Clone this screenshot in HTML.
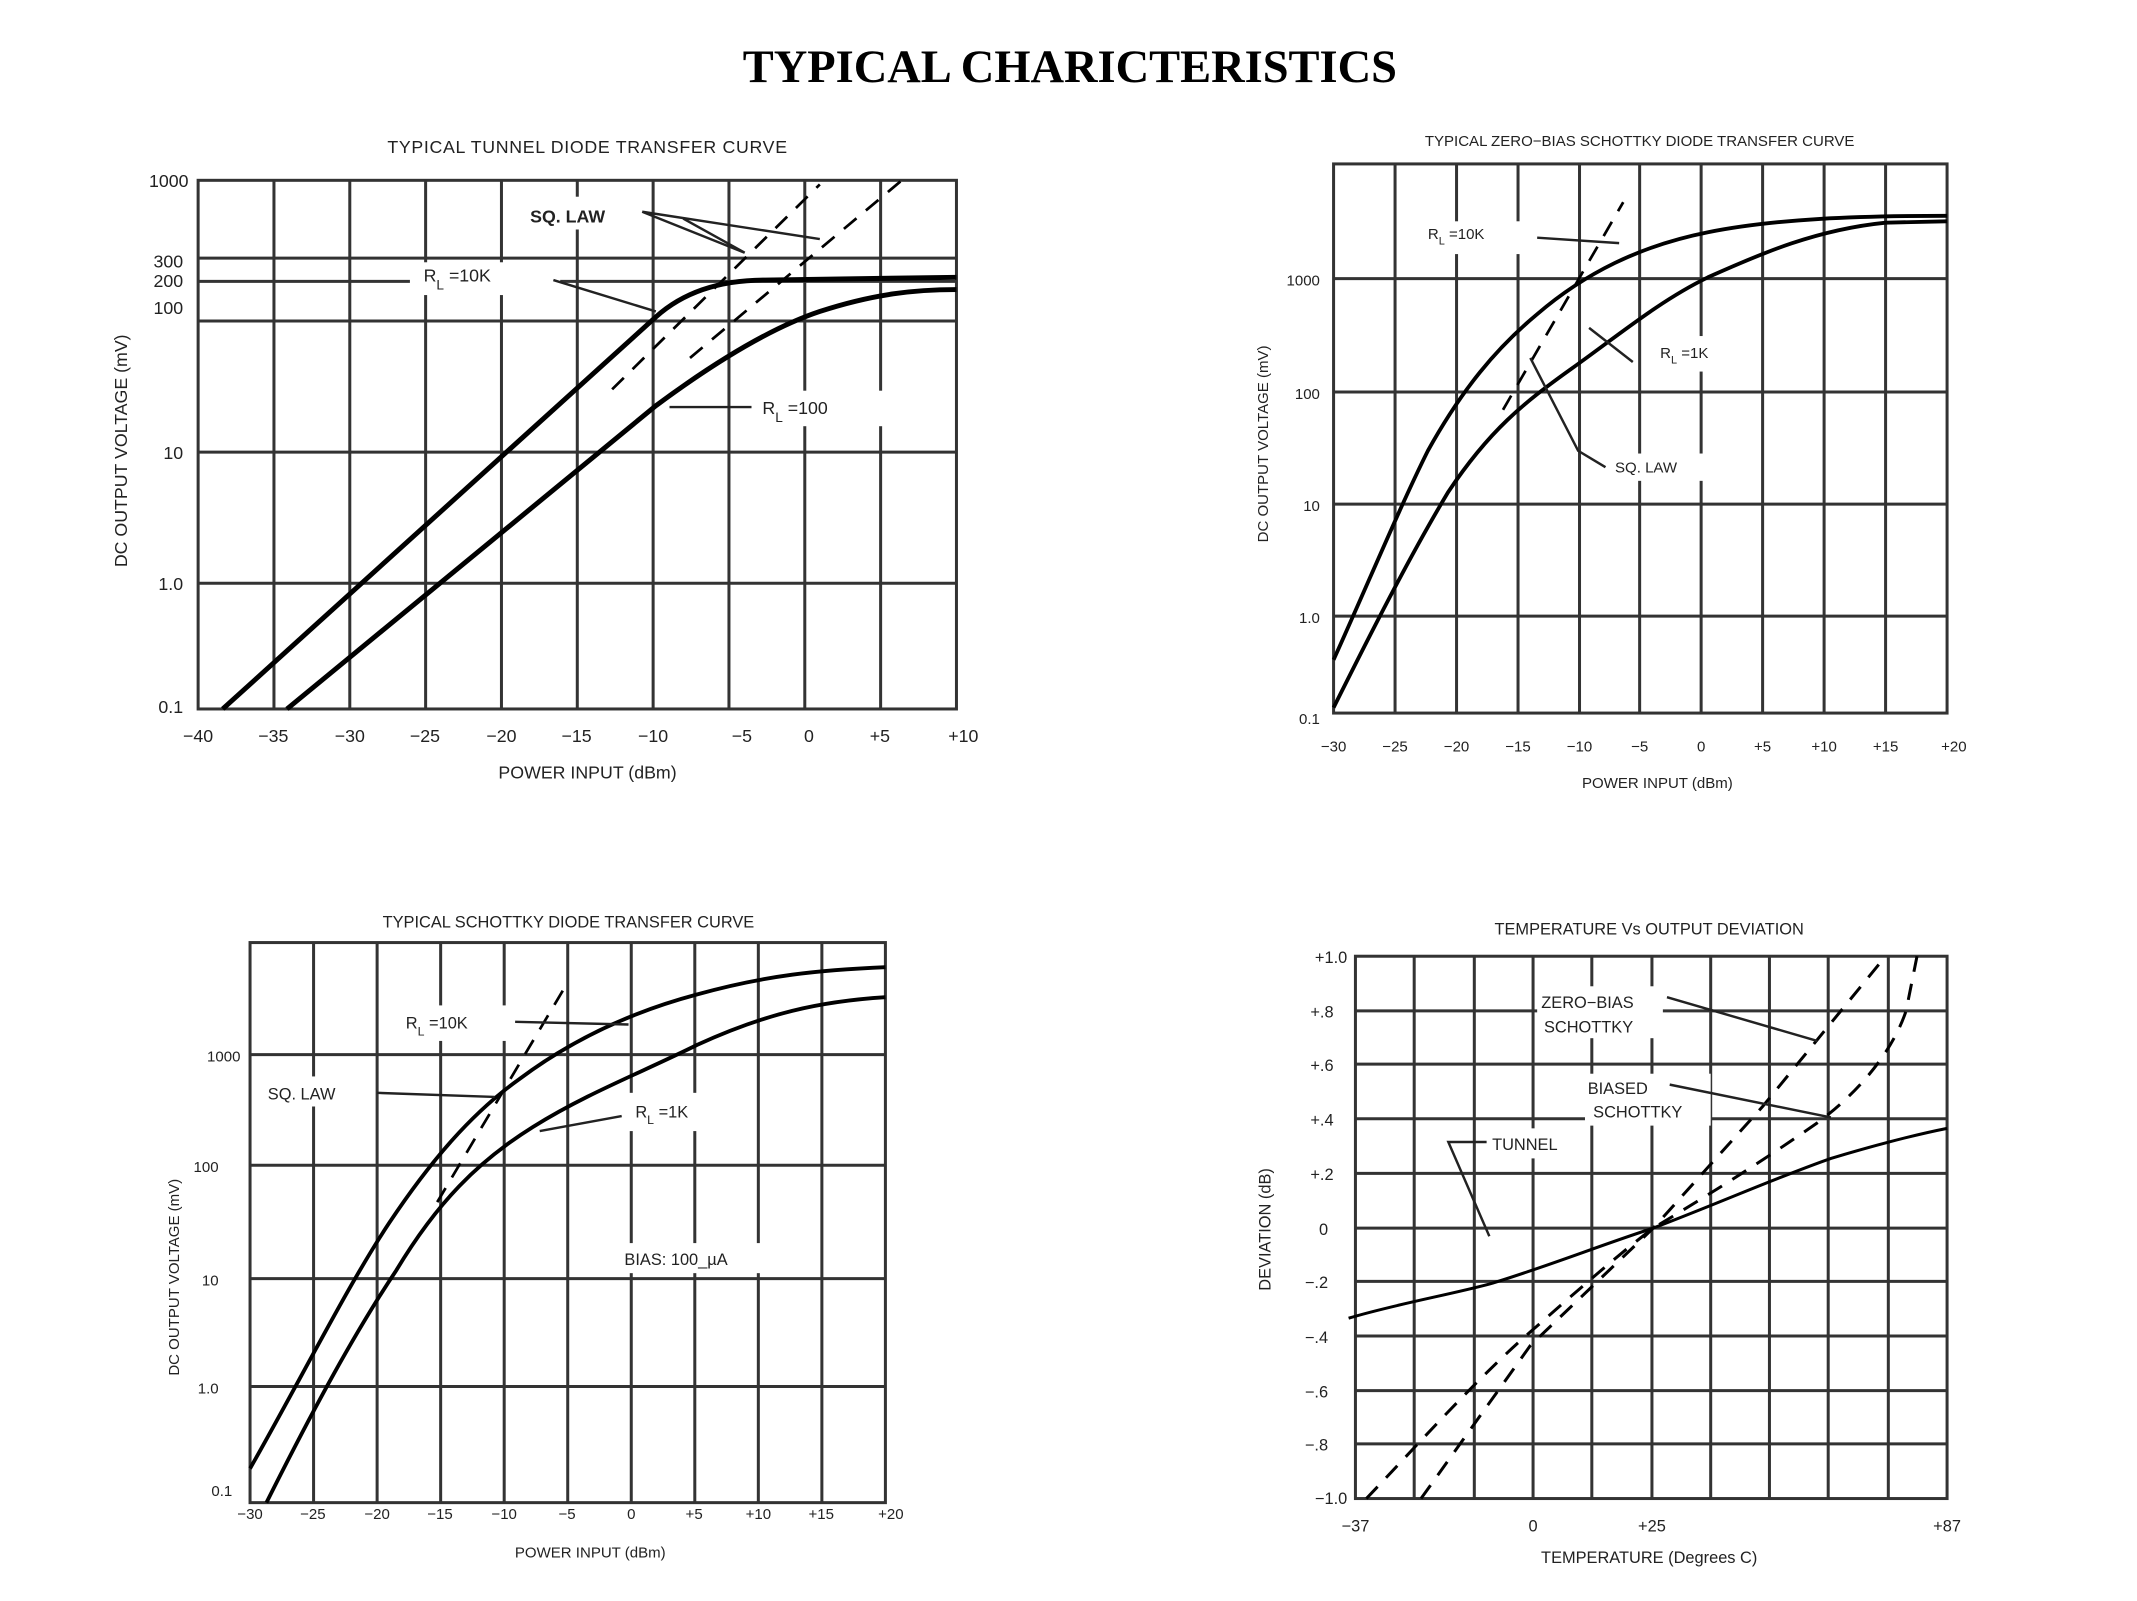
<!DOCTYPE html>
<html><head><meta charset="utf-8"><style>
html,body{margin:0;padding:0;background:#fff;}
svg{display:block;}
text{font-family:"Liberation Sans",sans-serif;fill:#222;}
.t{font-size:13px;letter-spacing:0.5px;}
.k{font-size:13px;}
.g{stroke:#333;stroke-width:2.2;fill:none;}
.c{stroke:#000;stroke-width:3.6;fill:none;}
.c2{stroke:#000;stroke-width:2.8;fill:none;}
.d{stroke:#000;stroke-width:2;fill:none;stroke-dasharray:12 9;}
.a{stroke:#222;stroke-width:1.8;fill:none;}
</style></head><body>
<svg width="2137" height="1601" viewBox="0 0 1564 1172" preserveAspectRatio="none" xmlns="http://www.w3.org/2000/svg">
<rect width="1564" height="1172" fill="#fff"/>
<text x="783" y="60" text-anchor="middle" style="font-family:'Liberation Serif',serif;font-weight:bold;font-size:34px;fill:#000">TYPICAL CHARICTERISTICS</text>

<!-- Chart 1 -->
<text class="t" x="430" y="112" text-anchor="middle">TYPICAL  TUNNEL  DIODE  TRANSFER  CURVE</text>
<g class="g">
<rect x="145" y="132" width="555" height="387"/>
<path d="M200.5 132V519M256 132V519M311.5 132V519M367 132V519M422.5 132V519M478 132V519M533.5 132V519M589 132V519M644.5 132V519"/>
<path d="M145 427H700M145 331H700M145 235H700M145 206H700M145 189H700"/>
</g>
<rect x="300" y="192" width="110" height="24" fill="#fff"/>
<rect x="550" y="286" width="105" height="26" fill="#fff"/>
<rect x="380" y="144" width="90" height="24" fill="#fff"/>
<path class="c" d="M163 519L480 232Q510 205 560 205L700 203"/>
<path class="c" d="M210 519L480 297C530 260 570 238 600 228C640 215 670 212 700 212"/>
<path class="d" d="M448 285L600 135M505 262L660 132"/>
<path class="a" d="M470 155L545 185L500 160M470 155L600 175M405 205L480 228M550 298L490 298"/>
<text x="388" y="163" style="font-size:13px;font-weight:bold">SQ.  LAW</text>
<text class="k" x="310" y="206">R<tspan dy="6" font-size="10">L</tspan><tspan dy="-6">   =10K</tspan></text>
<text class="k" x="558" y="303">R<tspan dy="6" font-size="10">L</tspan><tspan dy="-6">   =100</tspan></text>
<g class="k" text-anchor="end">
<text x="138" y="137">1000</text><text x="134" y="196">300</text><text x="134" y="210">200</text><text x="134" y="230">100</text>
<text x="134" y="336">10</text><text x="134" y="432">1.0</text><text x="134" y="522">0.1</text></g>
<g class="k" text-anchor="middle">
<text x="145" y="543">−40</text><text x="200" y="543">−35</text><text x="256" y="543">−30</text><text x="311" y="543">−25</text><text x="367" y="543">−20</text><text x="422" y="543">−15</text><text x="478" y="543">−10</text><text x="543" y="543">−5</text><text x="592" y="543">0</text><text x="644" y="543">+5</text><text x="705" y="543">+10</text></g>
<text class="k" x="430" y="570" text-anchor="middle">POWER  INPUT  (dBm)</text>
<text class="k" transform="translate(93,330) rotate(-90)" text-anchor="middle">DC  OUTPUT  VOLTAGE  (mV)</text>

<!-- Chart 2 -->
<text x="1200" y="107" text-anchor="middle" style="font-size:11px">TYPICAL  ZERO−BIAS  SCHOTTKY  DIODE  TRANSFER  CURVE</text>
<g class="g">
<rect x="976" y="120" width="449" height="402"/>
<path d="M1021 120V522M1066 120V522M1111 120V522M1156 120V522M1200 120V522M1245 120V522M1290 120V522M1335 120V522M1380 120V522"/>
<path d="M976 204H1425M976 287H1425M976 369H1425M976 451H1425"/>
</g>
<rect x="1040" y="162" width="90" height="24" fill="#fff"/>
<rect x="1210" y="246" width="75" height="26" fill="#fff"/>
<rect x="1175" y="332" width="75" height="20" fill="#fff"/>
<path class="c2" d="M976 483C1000 430 1025 370 1045 330C1070 285 1095 255 1125 230C1160 200 1200 180 1250 170C1300 160 1360 158 1425 158"/>
<path class="c2" d="M976 518C1000 470 1030 410 1060 360C1090 315 1115 295 1150 270C1185 245 1215 220 1250 203C1290 185 1330 168 1380 163L1425 162"/>
<path class="d" d="M1100 300L1188 148"/>
<path class="a" d="M1125 174L1185 178M1195 265L1163 240M1175 342L1155 330L1120 262"/>
<text x="1045" y="175" style="font-size:11px">R<tspan dy="4" font-size="8">L</tspan><tspan dy="-4">  =10K</tspan></text>
<text x="1215" y="262" style="font-size:11px">R<tspan dy="4" font-size="8">L</tspan><tspan dy="-4">  =1K</tspan></text>
<text x="1182" y="346" style="font-size:11px">SQ.  LAW</text>
<g style="font-size:11px" text-anchor="end">
<text x="966" y="209">1000</text><text x="966" y="292">100</text><text x="966" y="374">10</text><text x="966" y="456">1.0</text><text x="966" y="530">0.1</text></g>
<g style="font-size:11px" text-anchor="middle">
<text x="976" y="550">−30</text><text x="1021" y="550">−25</text><text x="1066" y="550">−20</text><text x="1111" y="550">−15</text><text x="1156" y="550">−10</text><text x="1200" y="550">−5</text><text x="1245" y="550">0</text><text x="1290" y="550">+5</text><text x="1335" y="550">+10</text><text x="1380" y="550">+15</text><text x="1430" y="550">+20</text></g>
<text x="1213" y="577" text-anchor="middle" style="font-size:11px">POWER  INPUT  (dBm)</text>
<text transform="translate(928,325) rotate(-90)" text-anchor="middle" style="font-size:11px">DC  OUTPUT  VOLTAGE  (mV)</text>

<!-- Chart 3 -->
<text x="416" y="679" text-anchor="middle" style="font-size:12px">TYPICAL  SCHOTTKY  DIODE  TRANSFER  CURVE</text>
<g class="g">
<rect x="183" y="690" width="465" height="410"/>
<path d="M229.5 690V1100M276 690V1100M322.5 690V1100M369 690V1100M415.5 690V1100M462 690V1100M508.5 690V1100M555 690V1100M601.5 690V1100"/>
<path d="M183 772H648M183 853H648M183 936H648M183 1015H648"/>
</g>
<rect x="190" y="788" width="80" height="22" fill="#fff"/>
<rect x="290" y="736" width="85" height="26" fill="#fff"/>
<rect x="455" y="800" width="80" height="28" fill="#fff"/>
<rect x="450" y="910" width="125" height="22" fill="#fff"/>
<path class="c2" d="M183 1075C220 1010 255 940 285 895C315 850 345 815 380 790C420 760 465 740 510 728C560 714 600 710 648 708"/>
<path class="c2" d="M195 1100C230 1030 260 975 290 930C320 880 350 850 390 825C430 800 470 785 510 765C560 742 600 733 648 730"/>
<path class="d" d="M320 880L412 725"/>
<path class="a" d="M276 800L362 803M377 748L460 750M455 817L395 828"/>
<text x="196" y="805" style="font-size:12px">SQ.  LAW</text>
<text x="297" y="753" style="font-size:12px">R<tspan dy="5" font-size="9">L</tspan><tspan dy="-5"> =10K</tspan></text>
<text x="465" y="818" style="font-size:12px">R<tspan dy="5" font-size="9">L</tspan><tspan dy="-5"> =1K</tspan></text>
<text x="457" y="926" style="font-size:12px">BIAS:  100_µA</text>
<g style="font-size:11px" text-anchor="end">
<text x="176" y="777">1000</text><text x="160" y="858">100</text><text x="160" y="941">10</text><text x="160" y="1020">1.0</text><text x="170" y="1095">0.1</text></g>
<g style="font-size:11px" text-anchor="middle">
<text x="183" y="1112">−30</text><text x="229" y="1112">−25</text><text x="276" y="1112">−20</text><text x="322" y="1112">−15</text><text x="369" y="1112">−10</text><text x="415" y="1112">−5</text><text x="462" y="1112">0</text><text x="508" y="1112">+5</text><text x="555" y="1112">+10</text><text x="601" y="1112">+15</text><text x="652" y="1112">+20</text></g>
<text x="432" y="1140" text-anchor="middle" style="font-size:11px">POWER  INPUT  (dBm)</text>
<text transform="translate(131,935) rotate(-90)" text-anchor="middle" style="font-size:11px">DC  OUTPUT  VOLTAGE  (mV)</text>

<!-- Chart 4 -->
<text x="1207" y="684" text-anchor="middle" style="font-size:12px">TEMPERATURE  Vs  OUTPUT  DEVIATION</text>
<g class="g">
<rect x="992" y="700" width="433" height="397"/>
<path d="M1035 700V1097M1079 700V1097M1122 700V1097M1165 700V1097M1209 700V1097M1252 700V1097M1295 700V1097M1338 700V1097M1382 700V1097"/>
<path d="M992 740H1425M992 779H1425M992 819H1425M992 859H1425M992 899H1425M992 938H1425M992 978H1425M992 1018H1425M992 1057H1425"/>
</g>
<rect x="1125" y="722" width="92" height="38" fill="#fff"/>
<rect x="1160" y="786" width="92" height="38" fill="#fff"/>
<rect x="1088" y="826" width="70" height="22" fill="#fff"/>
<path class="c2" style="stroke-width:2.2" d="M987 965C1020 955 1060 948 1090 940C1130 928 1170 912 1210 899C1260 880 1300 862 1340 848C1380 836 1405 830 1425 826"/>
<path class="d" style="stroke-width:2.2" d="M1040 1097L1120 985L1210 899L1290 810L1380 700"/>
<path class="d" style="stroke-width:2.2" d="M1000 1097C1040 1055 1080 1010 1120 975C1160 940 1185 918 1210 899C1250 875 1290 850 1330 822C1360 800 1385 770 1395 740L1403 700"/>
<path class="a" d="M1220 730L1330 762M1222 794L1340 818M1088 836L1060 836L1090 905"/>
<text x="1128" y="738" style="font-size:12px">ZERO−BIAS</text>
<text x="1130" y="756" style="font-size:12px">SCHOTTKY</text>
<text x="1162" y="801" style="font-size:12px">BIASED</text>
<text x="1166" y="818" style="font-size:12px">SCHOTTKY</text>
<text x="1092" y="842" style="font-size:12px">TUNNEL</text>
<g style="font-size:12px" text-anchor="end">
<text x="986" y="705">+1.0</text><text x="976" y="745">+.8</text><text x="976" y="784">+.6</text><text x="976" y="824">+.4</text><text x="976" y="864">+.2</text><text x="972" y="904">0</text><text x="972" y="943">−.2</text><text x="972" y="983">−.4</text><text x="972" y="1023">−.6</text><text x="972" y="1062">−.8</text><text x="986" y="1101">−1.0</text></g>
<g style="font-size:12px" text-anchor="middle">
<text x="992" y="1121">−37</text><text x="1122" y="1121">0</text><text x="1209" y="1121">+25</text><text x="1425" y="1121">+87</text></g>
<text x="1207" y="1144" text-anchor="middle" style="font-size:12px">TEMPERATURE  (Degrees  C)</text>
<text transform="translate(930,900) rotate(-90)" text-anchor="middle" style="font-size:12px">DEVIATION   (dB)</text>
</svg>
</body></html>
